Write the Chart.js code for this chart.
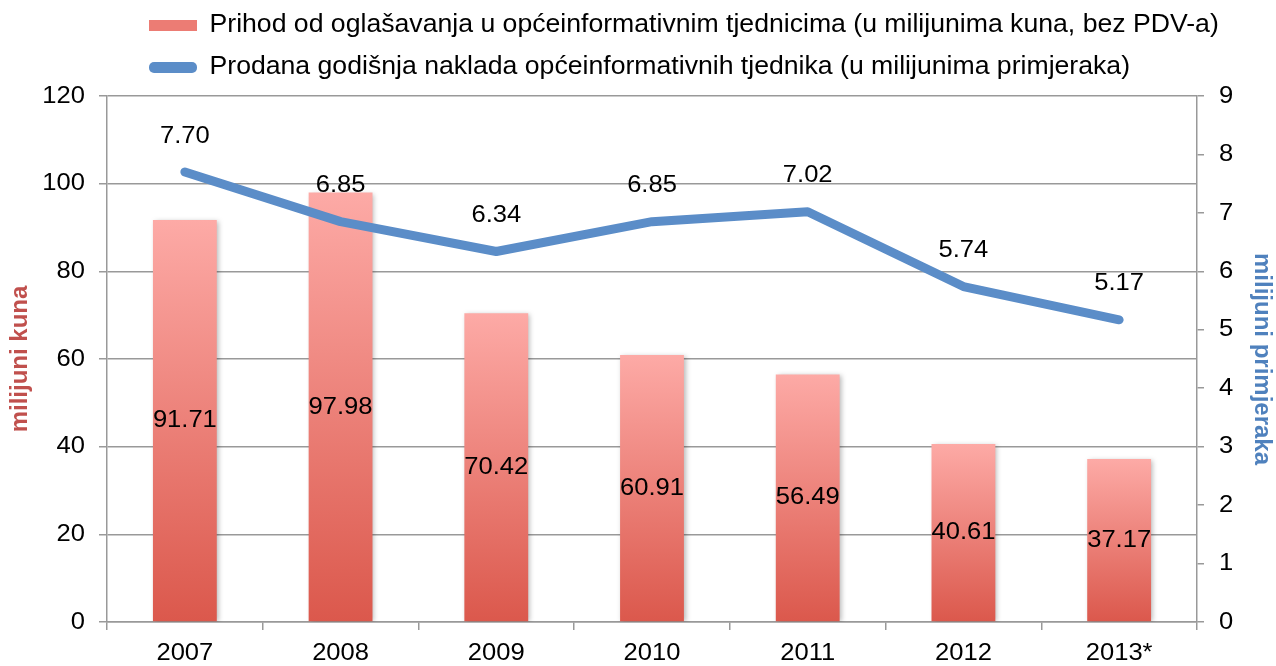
<!DOCTYPE html>
<html>
<head>
<meta charset="utf-8">
<script src="https://cdn.jsdelivr.net/npm/chart.js@4/dist/chart.umd.min.js"></script>
<style>
  html, body { margin: 0; padding: 0; background: #fff; }
  #wrap { width: 1276px; height: 666px; position: relative; }
</style>
</head>
<body>
<div id="wrap"><canvas id="c"></canvas></div>
<script>
// ---- data ----
const categories = ['2007', '2008', '2009', '2010', '2011', '2012', '2013*'];
const revenue = [91.71, 97.98, 70.42, 60.91, 56.49, 40.61, 37.17];
const circulation = [7.70, 6.85, 6.34, 6.85, 7.02, 5.74, 5.17];
const seriesNames = [
  'Prihod od oglašavanja u općeinformativnim tjednicima (u milijunima kuna, bez PDV-a)',
  'Prodana godišnja naklada općeinformativnih tjednika (u milijunima primjeraka)'
];
const leftTitle = 'milijuni kuna';
const rightTitle = 'milijuni primjeraka';

// ---- slight horizontal text stretch to mimic the reference's wide type ----
const SX = 1.065;
(function () {
  const proto = CanvasRenderingContext2D.prototype;
  const origFill = proto.fillText, origMeasure = proto.measureText;
  proto.fillText = function (text, x, y, maxWidth) {
    const t = this.getTransform();
    if (Math.abs(t.b) > 1e-6 || Math.abs(t.c) > 1e-6) {
      return maxWidth === undefined ? origFill.call(this, text, x, y) : origFill.call(this, text, x, y, maxWidth);
    }
    this.save();
    this.translate(x, y);
    this.scale(SX, 1);
    if (maxWidth === undefined) origFill.call(this, text, 0, 0);
    else origFill.call(this, text, 0, 0, maxWidth / SX);
    this.restore();
  };
  proto.measureText = function (text) {
    const m = origMeasure.call(this, text);
    return {
      width: m.width * SX,
      actualBoundingBoxLeft: m.actualBoundingBoxLeft * SX,
      actualBoundingBoxRight: m.actualBoundingBoxRight * SX,
      actualBoundingBoxAscent: m.actualBoundingBoxAscent,
      actualBoundingBoxDescent: m.actualBoundingBoxDescent,
      fontBoundingBoxAscent: m.fontBoundingBoxAscent,
      fontBoundingBoxDescent: m.fontBoundingBoxDescent
    };
  };
})();

const FONT = '"Liberation Sans", Arial, Helvetica, sans-serif';
Chart.defaults.font.family = FONT;
Chart.defaults.font.size = 24;
Chart.defaults.color = '#000';

const lineColor = '#5B8DC8';
const gridColor = '#999999';

function barGradient(c) {
  const chart = c.chart;
  if (!chart.chartArea || c.type !== 'data') return '#E9766D';
  const ys = chart.scales.y;
  const yTop = ys.getPixelForValue(c.raw);
  const yBase = ys.getPixelForValue(0);
  const g = chart.ctx.createLinearGradient(0, yTop, 0, yBase);
  g.addColorStop(0, '#FDAAA6');
  g.addColorStop(1, '#DB584C');
  return g;
}

const valueLabels = {
  id: 'valueLabels',
  beforeDatasetDraw(chart, args) {
    if (args.index === 0) {
      const ctx = chart.ctx;
      ctx.save();
      ctx.shadowColor = 'rgba(0,0,0,0.28)';
      ctx.shadowBlur = 5;
      ctx.shadowOffsetX = 2;
      ctx.shadowOffsetY = 1;
    }
  },
  afterDatasetDraw(chart, args) {
    if (args.index === 0) chart.ctx.restore();
  },
  afterDatasetsDraw(chart) {
    const ctx = chart.ctx;
    ctx.save();
    ctx.font = '24px ' + FONT;
    ctx.fillStyle = '#000';
    ctx.textAlign = 'center';
    ctx.textBaseline = 'middle';
    chart.getDatasetMeta(0).data.forEach((bar, i) => {
      ctx.fillText(revenue[i].toFixed(2), bar.x, (bar.y + bar.base) / 2);
    });
    chart.getDatasetMeta(1).data.forEach((pt, i) => {
      ctx.fillText(circulation[i].toFixed(2), pt.x, pt.y - 36);
    });
    ctx.restore();
  }
};

const legendShift = {
  id: 'legendShift',
  afterLayout(chart) {
    const lg = chart.legend;
    if (!lg) return;
    lg.left = 132;
    lg.top = -4;
  }
};

new Chart(document.getElementById('c'), {
  type: 'bar',
  data: {
    labels: categories,
    datasets: [
      {
        type: 'bar',
        label: seriesNames[0],
        data: revenue,
        yAxisID: 'y',
        backgroundColor: barGradient,
        borderWidth: 0,
        categoryPercentage: 1,
        barPercentage: 0.41,
        order: 1
      },
      {
        type: 'line',
        label: seriesNames[1],
        data: circulation,
        yAxisID: 'y1',
        borderColor: lineColor,
        backgroundColor: lineColor,
        borderWidth: 9,
        borderCapStyle: 'round',
        borderJoinStyle: 'round',
        pointRadius: 0,
        pointHoverRadius: 0,
        tension: 0,
        fill: false,
        order: 0
      }
    ]
  },
  options: {
    responsive: true,
    maintainAspectRatio: false,
    animation: false,
    layout: { padding: { top: 2, left: 0, right: 0, bottom: 0 } },
    plugins: {
      tooltip: { enabled: false },
      legend: {
        display: true,
        position: 'top',
        align: 'start',
        maxHeight: 94,
        labels: {
          font: { size: 25, family: FONT },
          color: '#000',
          boxWidth: 48,
          boxHeight: 11,
          padding: 17,
          generateLabels(chart) {
            return chart.data.datasets.map((ds, i) => ({
              text: ds.label,
              datasetIndex: i,
              fillStyle: i === 0 ? '#EC7C74' : lineColor,
              strokeStyle: 'rgba(0,0,0,0)',
              lineWidth: 0,
              borderRadius: i === 0 ? 0 : 5,
              hidden: false,
              fontColor: '#000'
            }));
          }
        }
      }
    },
    scales: {
      x: {
        offset: true,
        afterFit(s) { s.height = 44; },
        grid: { offset: true, drawOnChartArea: false, drawTicks: true, tickLength: 8, color: gridColor, lineWidth: 1.5 },
        border: { display: true, color: gridColor, width: 1.5 },
        ticks: { font: { size: 24 }, color: '#000', padding: 9, maxRotation: 0, autoSkip: false }
      },
      y: {
        position: 'left',
        min: 0,
        max: 120,
        afterFit(s) { s.width = 107; },
        grid: { drawOnChartArea: true, drawTicks: true, tickLength: 8, color: gridColor, lineWidth: 1.5 },
        border: { display: true, color: gridColor, width: 1.5 },
        ticks: { stepSize: 20, font: { size: 24 }, color: '#000', padding: 14 },
        title: { display: true, text: leftTitle, color: '#C0504D', font: { size: 24, weight: 'bold' }, padding: { top: 6, bottom: 0 } }
      },
      y1: {
        position: 'right',
        min: 0,
        max: 9,
        afterFit(s) { s.width = 79; },
        grid: { drawOnChartArea: false, drawTicks: true, tickLength: 7, color: gridColor, lineWidth: 1.5 },
        border: { display: true, color: gridColor, width: 1.5 },
        ticks: { stepSize: 1, font: { size: 24 }, color: '#000', padding: 15 },
        title: { display: true, text: rightTitle, color: '#4F81BD', font: { size: 24, weight: 'bold' }, padding: { top: 0, bottom: 0 } }
      }
    }
  },
  plugins: [valueLabels, legendShift]
});
</script>
</body>
</html>
